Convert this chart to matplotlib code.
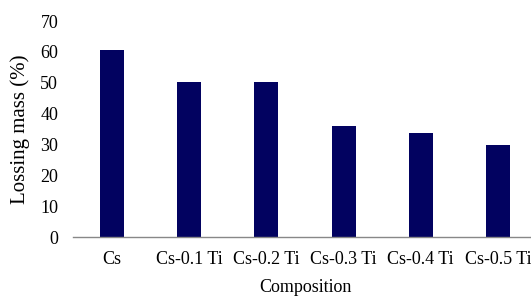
import matplotlib
matplotlib.use("Agg")
import matplotlib.pyplot as plt

plt.rcParams["font.family"] = ["Liberation Serif", "DejaVu Serif"]

compositions = ["Cs", "Cs-0.1 Ti", "Cs-0.2 Ti", "Cs-0.3 Ti", "Cs-0.4 Ti", "Cs-0.5 Ti"]
loss = [60.5, 50.3, 50.3, 36.0, 33.6, 29.8]
yticks = [0, 10, 20, 30, 40, 50, 60, 70]

fig = plt.figure(figsize=(5.31, 3.0), dpi=100)
ax = fig.add_axes([0.1383, 0.21, 0.872, 0.72])

ax.bar(range(len(compositions)), loss, width=0.31, color="#020260")
ax.set_xlim(-0.5, len(compositions) - 0.5)
ax.set_ylim(0, 70)
ax.set_yticks(yticks)
ax.set_xticks(range(len(compositions)))
ax.set_xticklabels(compositions)

for side in ["top", "right", "left"]:
    ax.spines[side].set_visible(False)
ax.spines["bottom"].set_color("#888888")
ax.spines["bottom"].set_linewidth(1.0)
ax.tick_params(axis="both", length=0, labelsize=13)
ax.tick_params(axis="y", pad=11)
ax.tick_params(axis="x", pad=10)

ax.set_ylabel("Lossing mass (%)", fontsize=15, labelpad=7)
ax.set_xlabel("Composition", fontsize=13, labelpad=8)

fig.savefig("out.png", dpi=100)
